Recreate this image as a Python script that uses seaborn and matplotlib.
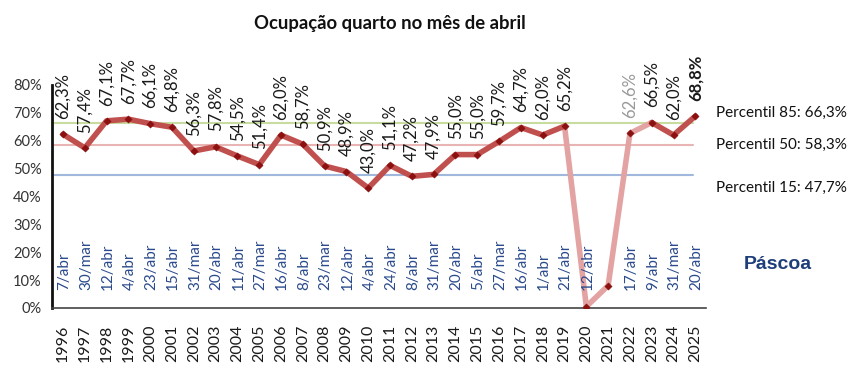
import pandas as pd
import seaborn as sns
import matplotlib.pyplot as plt
from matplotlib import ticker

# Dados
anos = list(range(1996, 2026))
ocupacao = [62.3, 57.4, 67.1, 67.7, 66.1, 64.8, 56.3, 57.8, 54.5, 51.4,
            62.0, 58.7, 50.9, 48.9, 43.0, 51.1, 47.2, 47.9, 55.0, 55.0,
            59.7, 64.7, 62.0, 65.2, 0.5, 8.0, 62.6, 66.5, 62.0, 68.8]
pascoa = ['7/abr', '30/mar', '12/abr', '4/abr', '23/abr', '15/abr', '31/mar', '20/abr',
          '11/abr', '27/mar', '16/abr', '8/abr', '23/mar', '12/abr', '4/abr', '24/abr',
          '8/abr', '31/mar', '20/abr', '5/abr', '27/mar', '16/abr', '1/abr', '21/abr',
          '12/abr', '', '17/abr', '9/abr', '31/mar', '20/abr']
rotulos_ocultos = [2020, 2021]
percentis = {'85': 66.3, '50': 58.3, '15': 47.7}
cores_percentis = {'85': '#c9dca0', '50': '#e8b4b4', '15': '#9fb8dc'}

dados = pd.DataFrame({'ano': anos, 'ocupacao': ocupacao, 'pascoa': pascoa})
normal_1 = dados[dados['ano'] <= 2019]
pandemia = dados[(dados['ano'] >= 2019) & (dados['ano'] <= 2023)]
normal_2 = dados[dados['ano'] >= 2023]

sns.set_style('white')
plt.rcParams['font.family'] = ['Lato', 'DejaVu Sans']

fig = plt.figure(figsize=(8.54, 3.84), dpi=100)
ax = fig.add_axes([0.061, 0.198, 0.766, 0.581])

# Linhas de percentil
for k, v in percentis.items():
    ax.plot([1995.5, 2024.9], [v, v], color=cores_percentis[k], lw=1.5, zorder=1)

# Série principal
sns.lineplot(x='ano', y='ocupacao', data=normal_1, ax=ax, color='#c0504d', lw=4, zorder=3)
sns.lineplot(x='ano', y='ocupacao', data=pandemia, ax=ax, color='#e3a3a3', lw=4, zorder=2)
sns.lineplot(x='ano', y='ocupacao', data=normal_2, ax=ax, color='#c0504d', lw=4, zorder=3)
sns.scatterplot(x='ano', y='ocupacao', data=dados, ax=ax, marker='D', s=14,
                color='#8b1010', edgecolor='#8b1010', zorder=4)

# Rótulos de valor
for ano, v in zip(anos, ocupacao):
    if ano in rotulos_ocultos:
        continue
    txt = f'{v:.1f}%'.replace('.', ',')
    cor = '#999999' if ano == 2022 else '#1a1a1a'
    peso = 'bold' if ano == 2025 else 'normal'
    ax.text(ano, v + 5.5, txt, rotation=90, ha='center', va='bottom', fontsize=12,
            color=cor, fontweight=peso, clip_on=False)

# Datas da Páscoa
for ano, p in zip(anos, pascoa):
    if p:
        ax.text(ano + 0.05, 6.3, p, rotation=90, ha='center', va='bottom', fontsize=11,
                color='#2a4a8c')

ax.set_xlim(1995.5, 2025.5)
ax.set_ylim(0, 80)
ax.set_xticks(anos)
ax.set_xticklabels([str(a) for a in anos], rotation=90, fontsize=11.5)
ax.xaxis.set_minor_locator(ticker.FixedLocator([a + 0.5 for a in anos]))
ax.tick_params(axis='x', which='major', length=0, pad=12, colors='#1a1a1a')
ax.tick_params(axis='x', which='minor', length=4, color='#555555', direction='out')
ax.yaxis.set_major_locator(ticker.MultipleLocator(10))
ax.yaxis.set_major_formatter(ticker.FuncFormatter(lambda y, _: f'{int(y)}%'))
ax.tick_params(axis='y', length=4, width=1.2, labelsize=10.5, colors='#333333', direction='out')
ax.set_xlabel('')
ax.set_ylabel('')
for s in ['top', 'right']:
    ax.spines[s].set_visible(False)
ax.spines['left'].set_linewidth(2)
ax.spines['left'].set_color('#111111')
ax.spines['bottom'].set_linewidth(1.2)
ax.spines['bottom'].set_color('#444444')

fig.text(0.457, 0.94, 'Ocupação quarto no mês de abril', ha='center', va='center',
         fontsize=13.3, fontweight='bold', color='#111111')

fig.text(0.838, 0.705, 'Percentil 85: 66,3%', fontsize=11, va='center', color='#111111')
fig.text(0.838, 0.622, 'Percentil 50: 58,3%', fontsize=11, va='center', color='#111111')
fig.text(0.838, 0.51, 'Percentil 15: 47,7%', fontsize=11, va='center', color='#111111')
fig.text(0.911, 0.31, 'Páscoa', fontsize=14, fontweight='bold', ha='center', va='center',
         color='#1f3f7a', family=['Liberation Sans', 'DejaVu Sans'])

fig.savefig('out.png', dpi=100)
